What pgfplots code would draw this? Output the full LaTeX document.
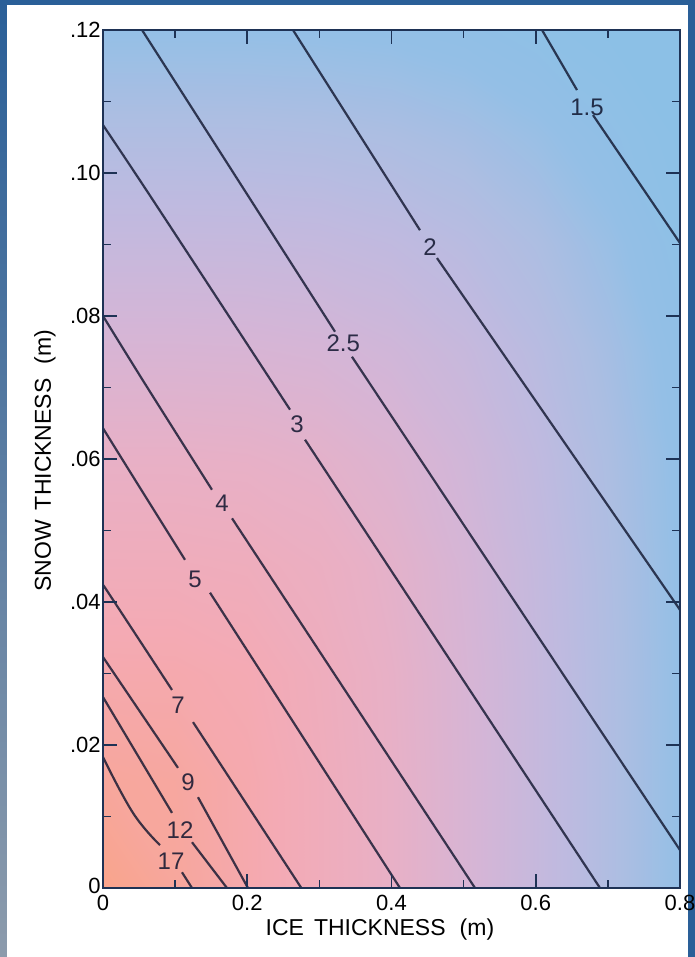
\documentclass[border=0pt]{standalone}
\usepackage{pgfplots}
\pgfplotsset{compat=1.18}
\usepackage{fontspec}
\setmainfont{Liberation Sans}
\definecolor{axiscol}{RGB}{30,50,85}
\definecolor{framecol}{RGB}{42,95,152}
\definecolor{framelow}{RGB}{140,155,172}
\definecolor{clinecol}{RGB}{15,20,45}
\tikzset{
  cl/.style={line width=1.1pt, color=clinecol, opacity=0.8, mark=none},
  clab/.style={font=\fontsize{12}{14}\selectfont, text=clinecol, text opacity=0.85, inner sep=0pt}
}
\begin{document}
\begin{tikzpicture}
\fill[white] (-51.5pt,-34.5pt) rectangle (296pt,444pt);
\shade[top color=framecol, bottom color=framelow] (-51.5pt,-34.5pt) rectangle (-48pt,444pt);
\fill[framecol] (-51.5pt,441.5pt) rectangle (296pt,444pt);
\fill[framecol] (292.5pt,-34.5pt) rectangle (296pt,444pt);
\begin{axis}[
  scale only axis, width=288.5pt, height=429pt,
  xmin=0, xmax=0.8, ymin=0, ymax=0.12,
  axis on top,
  scaled x ticks=false, scaled y ticks=false,
  xtick={0,0.2,0.4,0.6,0.8}, xticklabels={0,0.2,0.4,0.6,0.8},
  minor xtick={0.1,0.3,0.5,0.7},
  ytick={0,0.02,0.04,0.06,0.08,0.10,0.12},
  yticklabels={\raisebox{2.5pt}{0},.02,.04,.06,.08,.10,.12},
  minor ytick={0.01,0.03,0.05,0.07,0.09,0.11},
  tick align=inside,
  major tick length=7pt, minor tick length=4pt,
  axis line style={axiscol, line width=1pt},
  every tick/.append style={axiscol, line width=0.8pt},
  xticklabel style={font=\fontsize{11}{13}\selectfont, inner ysep=3.5pt},
  yticklabel style={font=\fontsize{11}{13}\selectfont, inner xsep=1pt},
  xlabel={ICE\hspace{5pt}THICKNESS\hspace{7pt}(m)},
  ylabel={SNOW\hspace{5pt}THICKNESS\hspace{7pt}(m)},
  xlabel style={at={(axis description cs:0.48,0)}, anchor=center, yshift=-21pt, font=\fontsize{11.5}{13}\selectfont},
  ylabel style={at={(axis description cs:0,0.498)}, anchor=center, yshift=29pt, font=\fontsize{11.5}{13}\selectfont},
  colormap={bgmap}{rgb255(0pt)=(249,164,139); rgb255(30pt)=(244,170,180); rgb255(50pt)=(232,176,198); rgb255(65pt)=(213,181,214); rgb255(80pt)=(190,186,224); rgb255(90pt)=(172,190,226); rgb255(100pt)=(148,191,230); rgb255(110pt)=(140,192,230)},
  point meta min=0, point meta max=1.1,
]
% background gradient
\addplot[surf, shader=interp, point meta=explicit, mesh/rows=9, mesh/cols=9] table[x=x, y=y, meta=t] {
x y t
0 0 0
0.1 0 0.125
0.2 0 0.25
0.3 0 0.375
0.4 0 0.5
0.5 0 0.625
0.6 0 0.75
0.7 0 0.875
0.8 0 1
0 0.015 0.125
0.1 0.015 0.149
0.2 0.015 0.254
0.3 0.015 0.376
0.4 0.015 0.5
0.5 0.015 0.625
0.6 0.015 0.75
0.7 0.015 0.875
0.8 0.015 1
0 0.03 0.25
0.1 0.03 0.254
0.2 0.03 0.297
0.3 0.03 0.392
0.4 0.03 0.508
0.5 0.03 0.629
0.6 0.03 0.752
0.7 0.03 0.876
0.8 0.03 1.001
0 0.045 0.375
0.1 0.045 0.376
0.2 0.045 0.392
0.3 0.045 0.446
0.4 0.045 0.536
0.5 0.045 0.644
0.6 0.045 0.761
0.7 0.045 0.882
0.8 0.045 1.005
0 0.06 0.5
0.1 0.06 0.5
0.2 0.06 0.508
0.3 0.06 0.536
0.4 0.06 0.595
0.5 0.06 0.681
0.6 0.06 0.785
0.7 0.06 0.897
0.8 0.06 1.015
0 0.075 0.625
0.1 0.075 0.625
0.2 0.075 0.629
0.3 0.075 0.644
0.4 0.075 0.681
0.5 0.075 0.743
0.6 0.075 0.828
0.7 0.075 0.927
0.8 0.075 1.036
0 0.09 0.75
0.1 0.09 0.75
0.2 0.09 0.752
0.3 0.09 0.761
0.4 0.09 0.785
0.5 0.09 0.828
0.6 0.09 0.892
0.7 0.09 0.975
0.8 0.09 1.071
0 0.105 0.875
0.1 0.105 0.875
0.2 0.105 0.876
0.3 0.105 0.882
0.4 0.105 0.897
0.5 0.105 0.927
0.6 0.105 0.975
0.7 0.105 1.041
0.8 0.105 1.1
0 0.12 1
0.1 0.12 1
0.2 0.12 1.001
0.3 0.12 1.005
0.4 0.12 1.015
0.5 0.12 1.036
0.6 0.12 1.071
0.7 0.12 1.1
0.8 0.12 1.1
};
% contour 1.5
\addplot[cl] coordinates {(0.6087,0.12) (0.6572,0.1116)};
\addplot[cl] coordinates {(0.6794,0.1081) (0.8,0.0902)};
% contour 2
\addplot[cl] coordinates {(0.2634,0.12) (0.4395,0.0920)};
\addplot[cl] coordinates {(0.4631,0.0881) (0.8,0.0389)};
% contour 2.5
\addplot[cl] coordinates {(0.0541,0.12) (0.3217,0.0778)};
\addplot[cl] coordinates {(0.3452,0.0743) (0.8,0.0053)};
% contour 3
\addplot[cl, smooth, tension=0.6] coordinates {(0,0.1067) (0.0693,0.0962) (0.2593,0.0669)};
\addplot[cl] coordinates {(0.2801,0.0627) (0.6891,0)};
% contour 4
\addplot[cl, smooth, tension=0.6] coordinates {(0,0.0800) (0.0596,0.0703) (0.1511,0.0557)};
\addplot[cl] coordinates {(0.1789,0.0517) (0.5158,0)};
% contour 5
\addplot[cl, smooth, tension=0.6] coordinates {(0,0.0643) (0.0400,0.0578) (0.1137,0.0459)};
\addplot[cl] coordinates {(0.1484,0.0413) (0.4118,0)};
% contour 7
\addplot[cl, smooth, tension=0.6] coordinates {(0,0.0424) (0.0139,0.0403) (0.0957,0.0277)};
\addplot[cl] coordinates {(0.1248,0.0232) (0.2750,0)};
% contour 9
\addplot[cl] coordinates {(0,0.0323) (0.1040,0.0168)};
\addplot[cl] coordinates {(0.1317,0.0127) (0.2010,0)};
% contour 12
\addplot[cl] coordinates {(0,0.0267) (0.0957,0.0105)};
\addplot[cl] coordinates {(0.1234,0.0064) (0.1719,0)};
% contour 17
\addplot[cl, smooth, tension=0.7] coordinates {(0,0.0183) (0.0416,0.0105) (0.0790,0.0060)};
\addplot[cl] coordinates {(0.1095,0.0022) (0.1234,0)};
% labels
\node[clab] at (axis cs:0.6711,0.1092) {1.5};
\node[clab] at (axis cs:0.4534,0.0897) {2};
\node[clab] at (axis cs:0.3332,0.0762) {2.5};
\node[clab] at (axis cs:0.2690,0.0649) {3};
\node[clab] at (axis cs:0.1650,0.0538) {4};
\node[clab] at (axis cs:0.1276,0.0431) {5};
\node[clab] at (axis cs:0.1040,0.0256) {7};
\node[clab] at (axis cs:0.1179,0.0148) {9};
\node[clab] at (axis cs:0.1068,0.0081) {12};
\node[clab] at (axis cs:0.0943,0.0038) {17};
\end{axis}
\pgfresetboundingbox
\path[use as bounding box] (-51.5pt,-34.5pt) rectangle (296pt,444pt);
\end{tikzpicture}
\end{document}
